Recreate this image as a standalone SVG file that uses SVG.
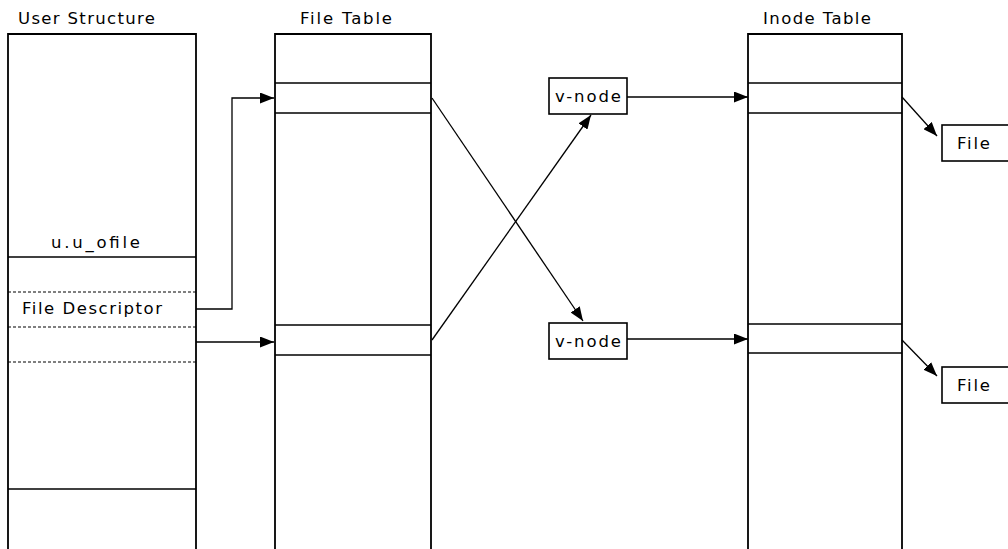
<svg xmlns="http://www.w3.org/2000/svg" width="1008" height="549" viewBox="0 0 1008 549">
<style>
text{font-family:"DejaVu Sans","Liberation Sans",sans-serif;font-size:16.5px;fill:#000}
.col{fill:none;stroke:#000;stroke-width:1.8}
.ln{stroke:#000;stroke-width:1.3}
.dash{stroke:#000;stroke-width:1.1;stroke-dasharray:3 2}
.box{fill:#fff;stroke:#000;stroke-width:1.6}
.conn{fill:none;stroke:#000;stroke-width:1.3;marker-end:url(#ah)}
</style>
<defs>
<marker id="ah" viewBox="0 0 14 11" refX="14" refY="5.5" markerWidth="14" markerHeight="11" markerUnits="userSpaceOnUse" orient="auto">
<path d="M0,0 L14,5.5 L0,11 Z" fill="#000"/>
</marker>
</defs>
<rect width="1008" height="549" fill="#fff"/>
<g id="user-structure">
<text x="18" y="24" textLength="137">User Structure</text>
<path class="col" d="M8,550 V34 H196 V550"/>
<line class="ln" x1="8" y1="257" x2="196" y2="257"/>
<line class="dash" x1="8" y1="292" x2="196" y2="292"/>
<line class="dash" x1="8" y1="327" x2="196" y2="327"/>
<line class="dash" x1="8" y1="362" x2="196" y2="362"/>
<line class="ln" x1="8" y1="489" x2="196" y2="489"/>
<text x="51" y="248" textLength="89">u.u_ofile</text>
<text x="22" y="314" textLength="140">File Descriptor</text>
</g>
<g id="file-table">
<text x="300" y="24" textLength="92">File Table</text>
<path class="col" d="M275,550 V34 H431 V550"/>
<line class="ln" x1="275" y1="83" x2="431" y2="83"/>
<line class="ln" x1="275" y1="113" x2="431" y2="113"/>
<line class="ln" x1="275" y1="325" x2="431" y2="325"/>
<line class="ln" x1="275" y1="355" x2="431" y2="355"/>
</g>
<g id="vnode1">
<rect class="box" x="549" y="78" width="78" height="36"/>
<text x="555" y="102" textLength="66">v-node</text>
</g>
<g id="vnode2">
<rect class="box" x="549" y="323" width="78" height="36"/>
<text x="555" y="347" textLength="66">v-node</text>
</g>
<g id="inode-table">
<text x="763" y="24" textLength="108">Inode Table</text>
<path class="col" d="M748,550 V34 H902 V550"/>
<line class="ln" x1="748" y1="83" x2="902" y2="83"/>
<line class="ln" x1="748" y1="113" x2="902" y2="113"/>
<line class="ln" x1="748" y1="324" x2="902" y2="324"/>
<line class="ln" x1="748" y1="353" x2="902" y2="353"/>
</g>
<g id="file1">
<rect class="box" x="942" y="125" width="80" height="36"/>
<text x="957" y="149" textLength="33">File</text>
</g>
<g id="file2">
<rect class="box" x="942" y="367" width="80" height="36"/>
<text x="957" y="391" textLength="33">File</text>
</g>
<g id="connectors">
<path class="conn" d="M196,309 H232 V98 H274"/>
<path class="conn" d="M196,342 H274"/>
<path class="conn" d="M432,98 L583,321"/>
<path class="conn" d="M432,340 L591,115"/>
<path class="conn" d="M627,97 H748"/>
<path class="conn" d="M627,339 H748"/>
<path class="conn" d="M902,97 L937,136"/>
<path class="conn" d="M902,340 L937,376"/>
</g>
</svg>
